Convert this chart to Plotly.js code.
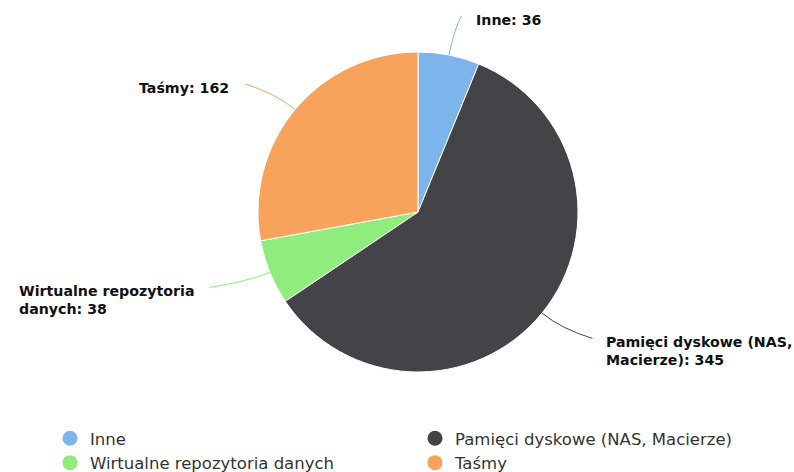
<!DOCTYPE html>
<html>
<head>
<meta charset="utf-8">
<script src="https://cdn.plot.ly/plotly-3.0.1.min.js"></script>
<style>html,body{margin:0;padding:0;background:#fff;}#chart{width:794px;height:472px;}</style>
</head>
<body>
<div id="chart"></div>
<script>
const categories = ['Inne', 'Pamięci dyskowe (NAS, Macierze)', 'Wirtualne repozytoria danych', 'Taśmy'];
const values = [36, 345, 38, 162];
const colors = ['#7cb5ec', '#434348', '#90ed7d', '#f7a35c'];

const W = 794, H = 472;
const cx = 418, cy = 212, r = 160;

function wrap(text, maxChars) {
  const words = text.split(' ');
  const lines = [];
  let cur = '';
  words.forEach(w => {
    if (cur && (cur + ' ' + w).length > maxChars) { lines.push(cur); cur = w; }
    else cur = cur ? cur + ' ' + w : w;
  });
  if (cur) lines.push(cur);
  return lines.join('<br>');
}

const total = values.reduce((a, b) => a + b, 0);
const shapes = [], annotations = [];
let cum = 0;
values.forEach((v, i) => {
  const mid = (cum + v / 2) / total * 2 * Math.PI;
  cum += v;
  const s = Math.sin(mid), c = Math.cos(mid);
  const ex = cx + r * s, ey = cy - r * c;
  const qx = cx + (r + 25) * s, qy = cy - (r + 25) * c;
  const lx = cx + (r + 65) * s, ly = cy - (r + 40) * c;
  shapes.push({
    type: 'path', xref: 'x', yref: 'y',
    path: `M ${ex} ${ey} Q ${qx} ${qy} ${lx} ${ly}`,
    line: {color: colors[i], width: 1}
  });
  const right = s > 0;
  annotations.push({
    xref: 'x', yref: 'y',
    x: lx + (right ? 12 : -14), y: ly - 6,
    xanchor: right ? 'left' : 'right', yanchor: 'top',
    align: 'left',
    showarrow: false,
    text: wrap(categories[i] + ': ' + values[i], 22),
    font: {family: 'DejaVu Sans', size: 14.2, weight: 'bold', color: '#111'}
  });
});

const pie = {
  type: 'pie',
  labels: categories,
  values: values,
  sort: false,
  direction: 'clockwise',
  rotation: 0,
  marker: {colors: colors, line: {color: '#ffffff', width: 1}},
  textinfo: 'none',
  hoverinfo: 'label+value',
  showlegend: false,
  domain: {x: [(cx - r) / W, (cx + r) / W], y: [1 - (cy + r) / H, 1 - (cy - r) / H]}
};

const legendTraces = categories.map((name, i) => ({
  type: 'scatter', mode: 'markers',
  x: [null], y: [null],
  name: name,
  marker: {color: colors[i], size: 15, symbol: 'circle'},
  hoverinfo: 'skip',
  showlegend: true
}));

const layout = {
  width: W, height: H,
  margin: {l: 0, r: 0, t: 0, b: 0, autoexpand: false},
  paper_bgcolor: '#ffffff', plot_bgcolor: 'rgba(0,0,0,0)',
  xaxis: {range: [0, W], visible: false, fixedrange: true},
  yaxis: {range: [H, 0], visible: false, fixedrange: true},
  showlegend: true,
  legend: {
    orientation: 'h',
    x: 50 / W, xanchor: 'left',
    y: 1 - 421 / H, yanchor: 'top',
    entrywidth: 320, entrywidthmode: 'pixels',
    font: {family: 'DejaVu Sans', size: 16.5, color: '#333333'},
    traceorder: 'normal',
    bgcolor: 'rgba(0,0,0,0)'
  },
  shapes: shapes,
  annotations: annotations
};

Plotly.newPlot('chart', [pie].concat(legendTraces), layout, {displayModeBar: false, staticPlot: true});
</script>
</body>
</html>
